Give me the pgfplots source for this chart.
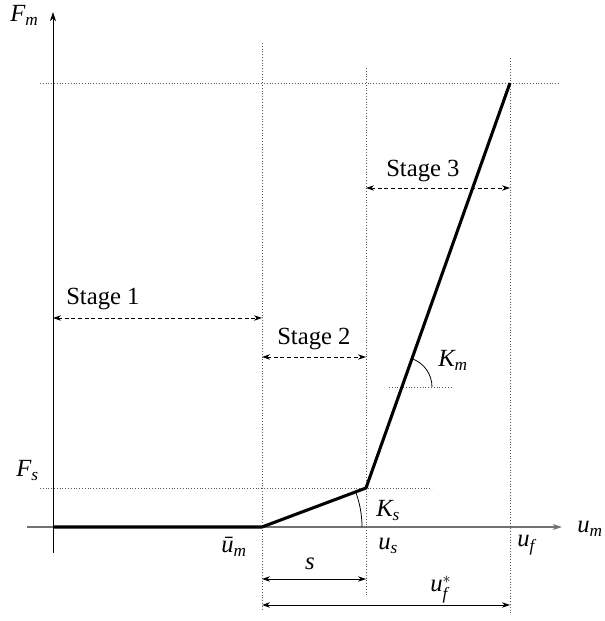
\documentclass[border=0pt]{standalone}
\usepackage{amsmath}
\usepackage{fontspec}
\setmainfont{Liberation Serif}
\usepackage{pgfplots}
\pgfplotsset{compat=1.18}
\usetikzlibrary{arrows.meta}
\begin{document}
\begin{tikzpicture}[
  dot/.style={black!65, line width=0.6pt, dash pattern=on 0.6pt off 1.5pt},
  dsh/.style={line width=0.6pt, dash pattern=on 3pt off 2pt, {Stealth[length=6pt,width=4pt]}-{Stealth[length=6pt,width=4pt]}},
  sol/.style={line width=0.6pt, {Stealth[length=6pt,width=4pt]}-{Stealth[length=6pt,width=4pt]}},
  lab/.style={font=\fontsize{18.5}{22}\selectfont, inner sep=0pt}
]
\begin{axis}[
  width=453.75pt, height=465.75pt, scale only axis,
  axis lines=none, clip=false,
  xmin=-53, xmax=552, ymin=-94, ymax=527,
]
\path (axis cs:-53,-94) rectangle (axis cs:552,527);
% axes
\draw[black!55, line width=0.8pt, -{Stealth[length=7pt,width=4.5pt]}] (axis cs:-26,0) -- (axis cs:509,0);
\draw[black, line width=0.6pt, -{Stealth[length=7pt,width=4.5pt]}] (axis cs:0,-26) -- (axis cs:0,515);
% dotted guides
\draw[dot] (axis cs:-13,444) -- (axis cs:507,444);
\draw[dot] (axis cs:-13,39) -- (axis cs:379,39);
\draw[dot] (axis cs:209,484) -- (axis cs:209,-83);
\draw[dot] (axis cs:313,459) -- (axis cs:313,-68);
\draw[dot] (axis cs:457,469) -- (axis cs:457,-88);
\draw[dot] (axis cs:336,140) -- (axis cs:400,140);
% data
\addplot[black, line width=2.3pt, line join=miter] coordinates {(0,0) (209,0) (313,39) (457,444)};
% stage arrows
\draw[dsh] (axis cs:0,209) -- (axis cs:209,209);
\draw[dsh] (axis cs:209,170) -- (axis cs:313,170);
\draw[dsh] (axis cs:313,339) -- (axis cs:457,339);
\draw[sol] (axis cs:209,-52) -- (axis cs:313,-52);
\draw[sol] (axis cs:209,-78) -- (axis cs:457,-78);
% angle arcs
\draw[line width=0.6pt] (axis cs:379,140) arc[start angle=0, end angle=70.4, radius=22.5pt];
\draw[line width=0.6pt] (axis cs:309,0) arc[start angle=0, end angle=20.6, radius=75pt];
% labels
\node[lab, anchor=base west] at (axis cs:-43,505) {$\textit{F}_{\textit{m}}$};
\node[lab, anchor=base west] at (axis cs:-37,50) {$\textit{F}_{\textit{s}}$};
\node[lab, anchor=base west] at (axis cs:168,-26) {$\textit{ū}_{\textit{m}}$};
\node[lab, anchor=base west] at (axis cs:325,-23) {$\textit{u}_{\textit{s}}$};
\node[lab, anchor=base west] at (axis cs:464,-20) {$\textit{u}_{\textit{f}}$};
\node[lab, anchor=base west] at (axis cs:524,-6) {$\textit{u}_{\textit{m}}$};
\node[lab, anchor=base] at (axis cs:257,-43) {\textit{s}};
\node[lab, anchor=base west] at (axis cs:377,-65) {$\textit{u}_{\textit{f}}^{*}$};
\node[lab, anchor=base west] at (axis cs:13,222) {Stage 1};
\node[lab, anchor=base west] at (axis cs:224,182) {Stage 2};
\node[lab, anchor=base west] at (axis cs:333,350) {Stage 3};
\node[lab, anchor=base west] at (axis cs:385,160) {$\textit{K}_{\textit{m}}$};
\node[lab, anchor=base west] at (axis cs:323,10) {$\textit{K}_{\textit{s}}$};
\end{axis}
\end{tikzpicture}
\end{document}
